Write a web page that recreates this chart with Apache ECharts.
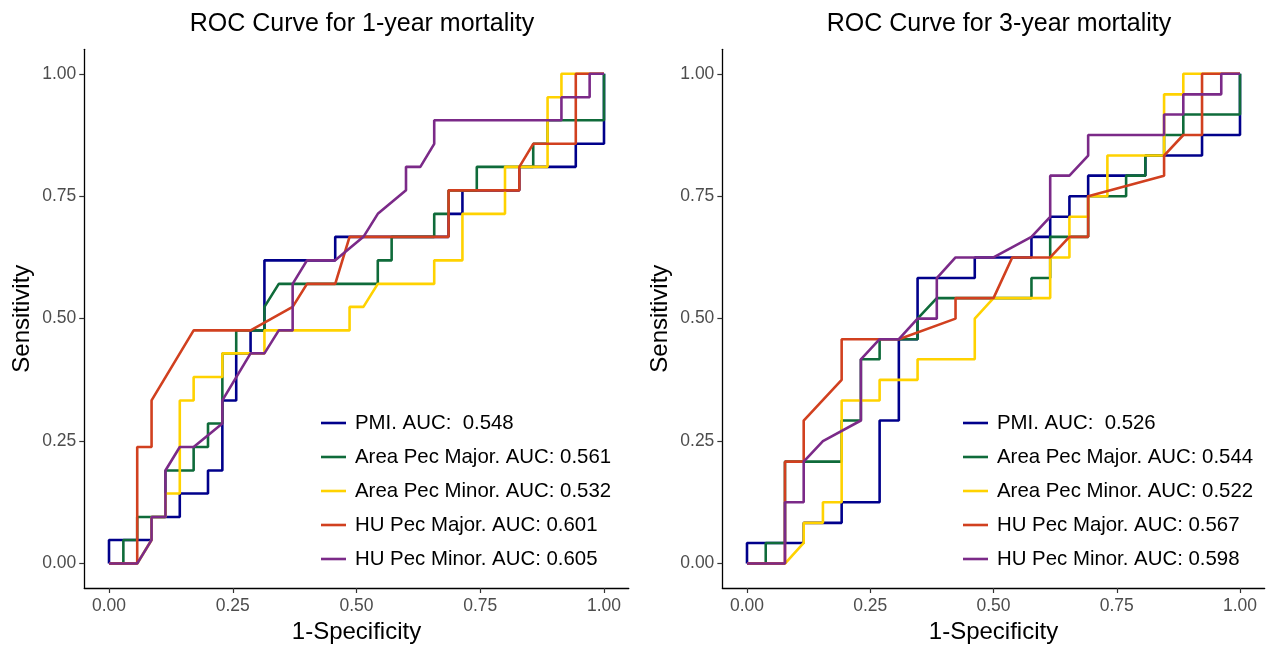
<!DOCTYPE html>
<html>
<head>
<meta charset="utf-8">
<script src="https://cdn.jsdelivr.net/npm/echarts@6/dist/echarts.min.js"></script>
<style>
html,body{margin:0;padding:0;background:#fff;}
#chart{width:1266px;height:649px;}
</style>
</head>
<body>
<div id="chart"></div>
<script>
// ---------- DATA (1-Specificity = x, Sensitivity = y) ----------
var tickValues = [0, 0.25, 0.5, 0.75, 1];
var panelTitles = ['ROC Curve for 1-year mortality', 'ROC Curve for 3-year mortality'];
var seriesColors = ['#00008B', '#0F6B3A', '#FFD200', '#D1401F', '#7B2A88'];

// 1-year mortality
var names1 = ['PMI. AUC:  0.548', 'Area Pec Major. AUC: 0.561', 'Area Pec Minor. AUC: 0.532', 'HU Pec Major. AUC: 0.601', 'HU Pec Minor. AUC: 0.605'];
var pmi1X = [0,0,.086,.086,.143,.143,.2,.2,.229,.229,.257,.257,.286,.286,.314,.314,.457,.457,.686,.686,.714,.714,.829,.829,.943,.943,1,1];
var pmi1Y = [0,.048,.048,.095,.095,.143,.143,.19,.19,.333,.333,.429,.429,.476,.476,.619,.619,.667,.667,.714,.714,.762,.762,.81,.81,.857,.857,1];
var areaMaj1X = [0,.029,.029,.057,.057,.114,.114,.171,.171,.2,.2,.229,.229,.257,.257,.314,.314,.343,.543,.543,.571,.571,.657,.657,.686,.686,.743,.743,.857,.857,.886,.886,1,1];
var areaMaj1Y = [0,0,.048,.048,.095,.095,.19,.19,.238,.238,.286,.286,.429,.429,.476,.476,.524,.571,.571,.619,.619,.667,.667,.714,.714,.762,.762,.81,.81,.857,.857,.905,.905,1];
var areaMin1X = [0,.057,.086,.086,.114,.114,.143,.143,.171,.171,.229,.229,.314,.314,.486,.486,.514,.543,.657,.657,.714,.714,.8,.8,.886,.886,.914,.914,1];
var areaMin1Y = [0,0,.048,.095,.095,.143,.143,.333,.333,.381,.381,.429,.429,.476,.476,.524,.524,.571,.571,.619,.619,.714,.714,.81,.81,.952,.952,1,1];
var huMaj1X = [0,.057,.057,.086,.086,.171,.286,.371,.4,.457,.486,.686,.686,.829,.829,.857,.943,.943,1];
var huMaj1Y = [0,0,.238,.238,.333,.476,.476,.524,.571,.571,.667,.667,.762,.762,.81,.857,.857,1,1];
var huMin1X = [0,.057,.086,.086,.114,.114,.143,.171,.229,.229,.286,.314,.343,.371,.371,.4,.457,.514,.543,.6,.6,.629,.657,.657,.914,.914,.971,.971,1];
var huMin1Y = [0,0,.048,.095,.095,.19,.238,.238,.286,.333,.429,.429,.476,.476,.571,.619,.619,.667,.714,.762,.81,.81,.857,.905,.905,.952,.952,1,1];

// 3-year mortality
var names3 = ['PMI. AUC:  0.526', 'Area Pec Major. AUC: 0.544', 'Area Pec Minor. AUC: 0.522', 'HU Pec Major. AUC: 0.567', 'HU Pec Minor. AUC: 0.598'];
var pmi3X = [0,0,.115,.115,.192,.192,.269,.269,.308,.308,.346,.346,.462,.462,.577,.577,.615,.615,.654,.654,.692,.692,.808,.808,.923,.923,1,1];
var pmi3Y = [0,.042,.042,.083,.083,.125,.125,.292,.292,.458,.458,.583,.583,.625,.625,.667,.667,.708,.708,.75,.75,.792,.792,.833,.833,.875,.875,1];
var areaMaj3X = [0,.038,.038,.077,.077,.192,.192,.231,.231,.269,.269,.346,.346,.385,.577,.577,.615,.615,.692,.692,.769,.769,.808,.808,.846,.846,.885,.885,1,1];
var areaMaj3Y = [0,0,.042,.042,.208,.208,.292,.292,.417,.417,.458,.458,.5,.542,.542,.583,.583,.667,.667,.75,.75,.792,.792,.833,.833,.875,.875,.917,.917,1];
var areaMin3X = [0,.077,.115,.115,.154,.154,.192,.192,.269,.269,.346,.346,.462,.462,.5,.615,.615,.654,.654,.692,.692,.731,.731,.846,.846,.885,.885,1];
var areaMin3Y = [0,0,.042,.083,.083,.125,.125,.333,.333,.375,.375,.417,.417,.5,.542,.542,.625,.625,.708,.708,.75,.75,.833,.833,.958,.958,1,1];
var huMaj3X = [0,.077,.077,.115,.115,.192,.192,.308,.423,.423,.5,.538,.615,.654,.692,.692,.846,.846,.885,.923,.923,1];
var huMaj3Y = [0,0,.208,.208,.292,.375,.458,.458,.5,.542,.542,.625,.625,.667,.667,.75,.792,.833,.875,.875,1,1];
var huMin3X = [0,.077,.077,.115,.115,.154,.231,.231,.269,.308,.346,.385,.385,.423,.5,.577,.615,.615,.654,.692,.692,.846,.846,.885,.885,.962,.962,1];
var huMin3Y = [0,0,.125,.125,.208,.25,.292,.417,.458,.458,.5,.5,.583,.625,.625,.667,.708,.792,.792,.833,.875,.875,.917,.917,.958,.958,1,1];

// ---------- CHART ----------
var FONT = '"Liberation Sans", Arial, sans-serif';
var curves1 = [[pmi1X, pmi1Y], [areaMaj1X, areaMaj1Y], [areaMin1X, areaMin1Y], [huMaj1X, huMaj1Y], [huMin1X, huMin1Y]];
var curves3 = [[pmi3X, pmi3Y], [areaMaj3X, areaMaj3Y], [areaMin3X, areaMin3Y], [huMaj3X, huMaj3Y], [huMin3X, huMin3Y]];

function pairs(xs, ys) { return xs.map(function (x, i) { return [x, ys[i]]; }); }

var grids = [
  { left: 84.25, top: 49.3, width: 544.5, height: 543.4 },
  { left: 722.35, top: 49.3, width: 542.3, height: 543.4 }
];

function makeAxis(gridIndex, isX, name) {
  var a = {
    type: 'value', gridIndex: gridIndex, min: -0.05, max: 1.05,
    axisLine: { show: true, onZero: false, lineStyle: { color: '#000', width: 1.3 } },
    axisTick: { show: true, customValues: tickValues, length: 5, lineStyle: { color: '#333', width: 1.2 } },
    axisLabel: { show: true, customValues: tickValues, color: '#4D4D4D', fontSize: 17.5, fontFamily: FONT,
                 margin: isX ? 9 : 8, formatter: function (v) { return v.toFixed(2); } },
    splitLine: { show: false },
    name: name, nameLocation: 'middle',
    nameTextStyle: { color: '#000', fontSize: 24, fontFamily: FONT },
    nameGap: isX ? 32 : 50
  };
  if (!isX) a.nameRotate = 90;
  return a;
}

var series = [];
[curves1, curves3].forEach(function (curves, p) {
  var nm = p === 0 ? names1 : names3;
  curves.forEach(function (c, i) {
    series.push({
      type: 'line', name: nm[i], xAxisIndex: p, yAxisIndex: p,
      data: pairs(c[0], c[1]), symbol: 'none', showSymbol: false,
      lineStyle: { color: seriesColors[i], width: 2.6 }, itemStyle: { color: seriesColors[i] },
      animation: false, silent: true
    });
  });
});

function makeLegend(names, left) {
  return {
    orient: 'vertical', left: left, top: 411, data: names,
    icon: 'rect', itemWidth: 25, itemHeight: 2.6, itemGap: 10,
    selectedMode: false,
    textStyle: { color: '#000', fontSize: 20.4, fontFamily: FONT, lineHeight: 24, padding: [0, 0, 0, 4] },
    padding: 0
  };
}

var option = {
  backgroundColor: '#fff',
  animation: false,
  title: [
    { text: panelTitles[0], left: 357, top: 7, textAlign: 'center', textStyle: { color: '#000', fontSize: 25, fontWeight: 'normal', fontFamily: FONT } },
    { text: panelTitles[1], left: 994, top: 7, textAlign: 'center', textStyle: { color: '#000', fontSize: 25, fontWeight: 'normal', fontFamily: FONT } }
  ],
  grid: grids,
  xAxis: [makeAxis(0, true, '1-Specificity'), makeAxis(1, true, '1-Specificity')],
  yAxis: [makeAxis(0, false, 'Sensitivity'), makeAxis(1, false, 'Sensitivity')],
  legend: [makeLegend(names1, 321), makeLegend(names3, 963)],
  series: series
};

var chart = echarts.init(document.getElementById('chart'), null, { renderer: 'canvas' });
chart.setOption(option);
</script>
</body>
</html>
